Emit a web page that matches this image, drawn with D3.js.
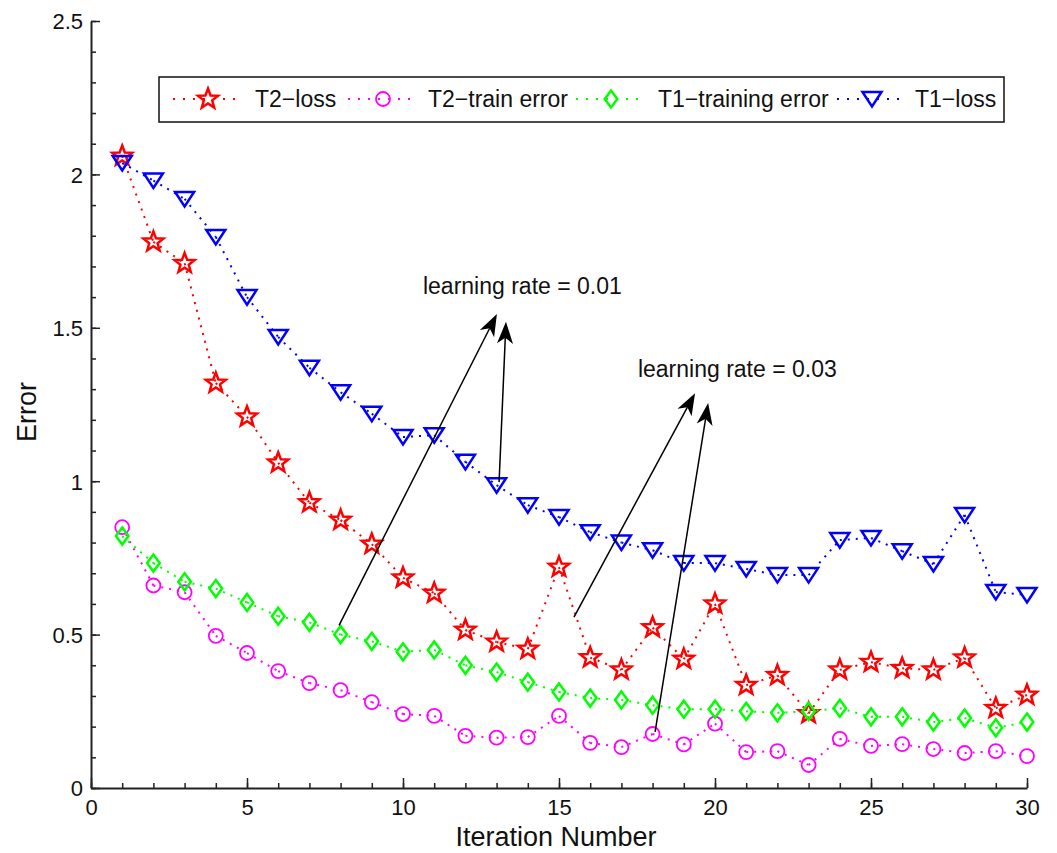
<!DOCTYPE html>
<html>
<head>
<meta charset="utf-8">
<script src="https://cdn.jsdelivr.net/npm/d3@7"></script>
<style>
  body { margin: 0; background: #fff; }
  svg { display: block; font-family: "Liberation Sans", Arial, Helvetica, sans-serif; }
</style>
</head>
<body>
<svg id="chart" width="1057" height="853"></svg>
<script>
// iteration numbers
const iterations = [1, 2, 3, 4, 5, 6, 7, 8, 9, 10, 11, 12, 13, 14, 15,
                    16, 17, 18, 19, 20, 21, 22, 23, 24, 25, 26, 27, 28, 29, 30];

const t2Loss = [2.06, 1.78, 1.71, 1.32, 1.21, 1.06, 0.93, 0.873, 0.795, 0.685,
                0.635, 0.515, 0.476, 0.453, 0.72, 0.425, 0.385, 0.523, 0.42, 0.60,
                0.335, 0.367, 0.243, 0.385, 0.41, 0.39, 0.385, 0.424, 0.26, 0.303];

const t2Train = [0.85, 0.66, 0.638, 0.496, 0.44, 0.381, 0.342, 0.319, 0.28, 0.241,
                 0.235, 0.17, 0.164, 0.166, 0.235, 0.147, 0.133, 0.176, 0.142, 0.21,
                 0.117, 0.12, 0.075, 0.16, 0.137, 0.143, 0.127, 0.114, 0.12, 0.104];

const t1Train = [0.821, 0.733, 0.672, 0.65, 0.605, 0.56, 0.54, 0.50, 0.478, 0.444,
                 0.45, 0.40, 0.378, 0.345, 0.313, 0.293, 0.287, 0.27, 0.257, 0.257,
                 0.25, 0.245, 0.25, 0.26, 0.232, 0.232, 0.215, 0.228, 0.196, 0.215];

const t1Loss = [2.037, 1.98, 1.92, 1.796, 1.60, 1.47, 1.37, 1.29, 1.22, 1.144,
                1.15, 1.063, 0.987, 0.922, 0.883, 0.834, 0.80, 0.775, 0.733, 0.733,
                0.714, 0.694, 0.694, 0.808, 0.815, 0.772, 0.73, 0.89, 0.639, 0.629];

const xTicks = [0, 5, 10, 15, 20, 25, 30];
const yTicks = [0, 0.5, 1, 1.5, 2, 2.5];

const seriesNames = ["T2\u2212loss", "T2\u2212train error", "T1\u2212training error", "T1\u2212loss"];
const seriesColors = ["#ff0000", "#ff00ff", "#00ff00", "#0000ff"];
const seriesMarkers = ["star", "circle", "diamond", "triangle"];

// annotations: [x0, y0, x1, y1] in data units, arrow tip at (x1, y1)
const arrows = [
  [7.95, 0.53, 13.01, 1.545],
  [13.08, 0.997, 13.3, 1.52],
  [15.48, 0.557, 19.36, 1.287],
  [18.08, 0.183, 19.78, 1.255]
];
const notes = [
  { text: "learning rate = 0.01", x: 10.64, y: 1.61 },
  { text: "learning rate = 0.03", x: 17.53, y: 1.34 }
];

const series = [t2Loss, t2Train, t1Train, t1Loss].map((vals, i) => ({
  name: seriesNames[i],
  color: seriesColors[i],
  marker: seriesMarkers[i],
  points: iterations.map((it, j) => ({ x: it, y: vals[j] }))
}));

const svg = d3.select("#chart");

const x = d3.scaleLinear().domain([0, 30]).range([91, 1027]);
const y = d3.scaleLinear().domain([0, 2.5]).range([788, 21]);

const axisColor = "#222";

// minor ticks
svg.append("g")
    .attr("transform", "translate(0,788)")
    .call(d3.axisBottom(x).tickValues(d3.range(0, 31, 1)).tickSize(-5).tickSizeOuter(0).tickFormat(""))
    .call(g => g.select(".domain").remove());
svg.append("g")
    .attr("transform", "translate(91,0)")
    .call(d3.axisLeft(y).tickValues(d3.range(0, 26, 1).map(d => d / 10)).tickSize(-5).tickSizeOuter(0).tickFormat(""))
    .call(g => g.select(".domain").remove());

// major ticks and labels
const xAxis = svg.append("g")
    .attr("transform", "translate(0,788)")
    .call(d3.axisBottom(x).tickValues(xTicks).tickSize(-10).tickSizeOuter(0).tickPadding(11).tickFormat(d3.format("d")));
const yAxis = svg.append("g")
    .attr("transform", "translate(91,0)")
    .call(d3.axisLeft(y).tickValues(yTicks).tickSize(-9).tickSizeOuter(0).tickPadding(8).tickFormat(d => String(d)));

svg.selectAll(".tick line").attr("stroke", axisColor).attr("stroke-width", 1.5);
[xAxis, yAxis].forEach(a => {
  a.select(".domain").attr("stroke", axisColor).attr("stroke-width", 2);
  a.selectAll("text").attr("font-size", 22).attr("fill", "#111")
      .attr("font-family", "'Liberation Sans', Arial, sans-serif");
});
yAxis.selectAll("text").attr("dy", "0.36em");

// axis titles
svg.append("text")
    .attr("x", 556).attr("y", 846)
    .attr("text-anchor", "middle")
    .attr("font-size", 27).attr("fill", "#111")
    .text("Iteration Number");
svg.append("text")
    .attr("transform", "translate(36,412) rotate(-90)")
    .attr("text-anchor", "middle")
    .attr("font-size", 27).attr("fill", "#111")
    .text("Error");

// marker shapes
function markerPath(type) {
  if (type === "star") {
    const pts = [];
    for (let k = 0; k < 10; k++) {
      const r = k % 2 === 0 ? 10.5 : 4.4;
      const a = -Math.PI / 2 + k * Math.PI / 5;
      pts.push([r * Math.cos(a), r * Math.sin(a)]);
    }
    return "M" + pts.map(p => p.join(",")).join("L") + "Z";
  }
  if (type === "diamond") return "M0,-8.5L6.3,0L0,8.5L-6.3,0Z";
  if (type === "triangle") return "M-9.5,-7L9.5,-7L0,7.5Z";
  return null;
}

function drawMarker(sel, type, color) {
  if (type === "circle") {
    sel.append("circle").attr("r", 7)
        .attr("fill", "none").attr("stroke", color).attr("stroke-width", 1.8);
  } else {
    sel.append("path").attr("d", markerPath(type))
        .attr("fill", "none").attr("stroke", color)
        .attr("stroke-width", type === "star" ? 2.5 : 2.5)
        .attr("stroke-linejoin", "miter");
  }
}

// series: dotted segments then markers
series.forEach(s => {
  const g = svg.append("g");
  const segs = d3.pairs(s.points);
  g.selectAll("line.seg")
    .data(segs)
    .enter().append("line")
      .attr("class", "seg")
      .attr("x1", d => x(d[0].x)).attr("y1", d => y(d[0].y))
      .attr("x2", d => x(d[1].x)).attr("y2", d => y(d[1].y))
      .attr("stroke", s.color)
      .attr("stroke-width", 2)
      .attr("stroke-dasharray", "2,6");
  g.selectAll("g.mk")
    .data(s.points)
    .enter().append("g")
      .attr("class", "mk")
      .attr("transform", d => `translate(${x(d.x)},${y(d.y)})`)
      .each(function() { drawMarker(d3.select(this), s.marker, s.color); });
});

// legend
const legendX = [173, 348, 576, 837];
const legendTextX = [255, 428, 658, 915];
const legend = svg.append("g");
legend.append("rect")
    .attr("x", 159).attr("y", 77).attr("width", 845).attr("height", 45)
    .attr("fill", "#fff").attr("stroke", "#111").attr("stroke-width", 1.5);
series.forEach((s, i) => {
  const lg = legend.append("g");
  lg.append("line")
      .attr("x1", legendX[i]).attr("x2", legendX[i] + 64)
      .attr("y1", 99).attr("y2", 99)
      .attr("stroke", s.color).attr("stroke-width", 2)
      .attr("stroke-dasharray", "2,8");
  const mk = lg.append("g").attr("transform", `translate(${legendX[i] + 35},99)`);
  drawMarker(mk, s.marker, s.color);
  lg.append("text")
      .attr("x", legendTextX[i]).attr("y", 107)
      .attr("font-size", 23).attr("fill", "#111")
      .text(s.name);
});

// annotations
function arrowHead(x0, y0, x1, y1) {
  const dx = x1 - x0, dy = y1 - y0;
  const len = Math.hypot(dx, dy);
  const ux = dx / len, uy = dy / len;
  const nx = -uy, ny = ux;
  const L = 22, W = 8, notch = 6;
  const bx = x1 - L * ux, by = y1 - L * uy;
  const mx = x1 - (L - notch) * ux, my = y1 - (L - notch) * uy;
  return {
    path: `M${x1},${y1}L${bx + W * nx},${by + W * ny}L${mx},${my}L${bx - W * nx},${by - W * ny}Z`,
    mx, my
  };
}

const ann = svg.append("g");
arrows.forEach(a => {
  const x0 = x(a[0]), y0 = y(a[1]), x1 = x(a[2]), y1 = y(a[3]);
  const h = arrowHead(x0, y0, x1, y1);
  ann.append("line")
      .attr("x1", x0).attr("y1", y0).attr("x2", h.mx).attr("y2", h.my)
      .attr("stroke", "#000").attr("stroke-width", 1.5);
  ann.append("path").attr("d", h.path).attr("fill", "#000");
});
notes.forEach(n => {
  ann.append("text")
      .attr("x", x(n.x)).attr("y", y(n.y))
      .attr("font-size", 23).attr("fill", "#111")
      .text(n.text);
});
</script>
</body>
</html>
